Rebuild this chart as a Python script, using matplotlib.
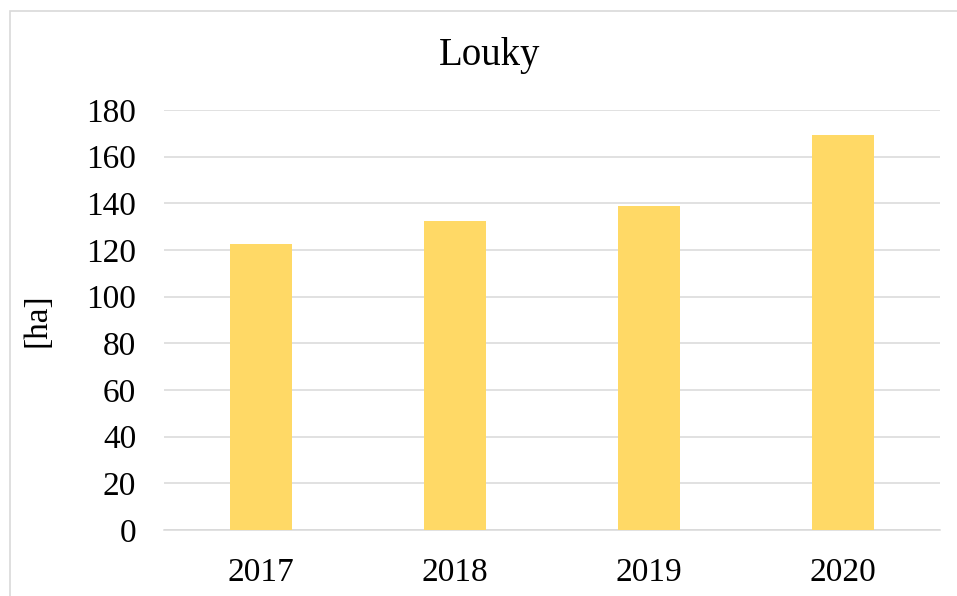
import matplotlib
matplotlib.use('Agg')
import matplotlib.pyplot as plt
from matplotlib.patches import Rectangle

# data
years = ['2017', '2018', '2019', '2020']
louky_ha = [122.7, 132.5, 138.7, 169.2]

plt.rcParams['font.family'] = ['Liberation Serif', 'DejaVu Serif']

W, H = 957, 596
fig = plt.figure(figsize=(W / 100, H / 100), dpi=100)
ax = fig.add_axes([164 / W, 66 / H, 776 / W, 420 / H])

x = range(len(years))
ax.bar(x, louky_ha, width=0.315, color='#FFD966', zorder=3)

ax.set_xlim(-0.5, len(years) - 0.5)
ax.set_ylim(0, 180)
ax.set_yticks(range(0, 181, 20))
ax.set_xticks(list(x))
ax.set_xticklabels(years)

ax.grid(axis='y', color='#D9D9D9', linewidth=1.1, zorder=0)
for s in ['top', 'right', 'left']:
    ax.spines[s].set_visible(False)
ax.spines['bottom'].set_color('#D9D9D9')
ax.spines['bottom'].set_linewidth(1.1)
ax.tick_params(axis='both', length=0, labelsize=24)
ax.tick_params(axis='y', pad=20)
ax.tick_params(axis='x', pad=20)

# title is centred on the chart frame, not the plot area
fig.text(490 / W, 1 - 55 / H, 'Louky', fontsize=28, ha='center', va='center')
ax.set_ylabel('[ha]', fontsize=24, labelpad=24)

# chart frame (cut off at right and bottom)
fig.patches.append(Rectangle((10 / W, -0.1), 1.1, (H - 10.5) / H + 0.1,
                             transform=fig.transFigure, fill=False,
                             edgecolor='#D9D9D9', linewidth=1.2))

fig.savefig('out.png', dpi=100)
